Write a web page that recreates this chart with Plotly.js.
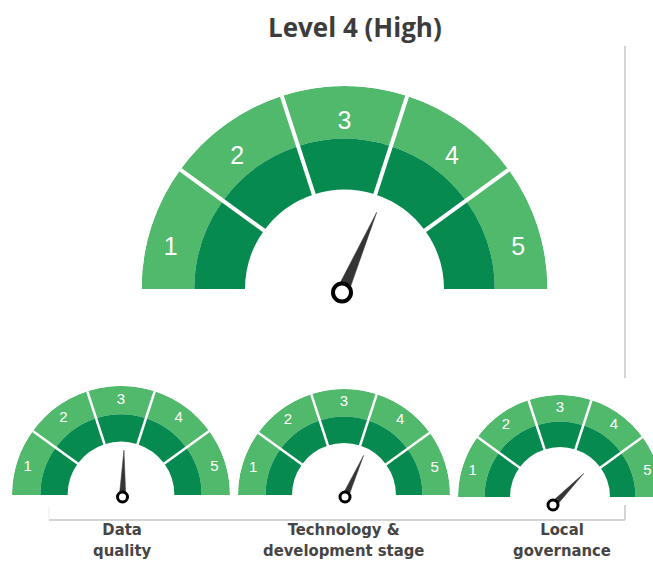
<!DOCTYPE html>
<html>
<head>
<meta charset="utf-8">
<script src="https://cdn.plot.ly/plotly-3.0.1.min.js"></script>
<style>
html,body{margin:0;padding:0;overflow:hidden;background:#fff;width:653px;height:562px;}
#chart{width:670px;height:620px;}
</style>
</head>
<body>
<div id="chart"></div>
<script>
// ---- data ----
const levels = [1, 2, 3, 4, 5];
const levelLabels = ['1', '2', '3', '4', '5'];
const gaugeTitles = ['Level 4 (High)', 'Data<br>quality', 'Technology &amp;<br>development stage', 'Local<br>governance'];
const needleValues = [3.15, 2.55, 3.17, 3.73];

// ---- styling / layout ----
// the figure is drawn a little larger than the 653x562 window; the extra is cropped
const W = 670, H = 620;
// pdx/pdy: small pixel offset of the needle pivot from the gauge centre (right / down)
const gauges = [
  {cx: 344.5, cy: 289, R: 203, font: 25, sep: 4, pivot: 18, pivotLine: 4, drop: 0.08, pdx: -2.5, pdy: 3.5},
  {cx: 121, cy: 495, R: 109, font: 15, sep: 2.5, pivot: 10, pivotLine: 3, drop: 0.027, pdx: 1.5, pdy: 2},
  {cx: 344, cy: 495, R: 106, font: 15, sep: 2.5, pivot: 10, pivotLine: 3, drop: 0.027, pdx: 1, pdy: 2},
  {cx: 560, cy: 497, R: 102, font: 15, sep: 2.5, pivot: 10, pivotLine: 3, drop: 0.027, pdx: -7, pdy: 8}
];
const LIGHT = '#50b96b', DARK = '#078a4f', NEEDLE = '#353535';
const degPerLevel = 180 / levels.length;
const rInner = 49, rMid = 74, rOuter = 100, needleLen = 43, needleHalfW = 3, labelR = 90;
const rad = Math.PI / 180;
// local frame helper: x towards theta=0 (left), y up -> polar (r, theta)
const toPolar = (x, y) => [Math.hypot(x, y), Math.atan2(y, x) / rad];

const traces = [];
const layout = {
  width: W, height: H,
  margin: {l: 0, r: 0, t: 0, b: 0},
  paper_bgcolor: '#fff',
  showlegend: false,
  annotations: [],
  shapes: []
};

gauges.forEach((g, i) => {
  const pid = i === 0 ? 'polar' : 'polar' + (i + 1);
  layout[pid] = {
    domain: {
      x: [(g.cx - g.R) / W, (g.cx + g.R) / W],
      y: [1 - (g.cy + g.R) / H, 1 - (g.cy - g.R) / H]
    },
    bgcolor: 'rgba(0,0,0,0)',
    radialaxis: {visible: false, range: [0, rOuter], showgrid: false},
    angularaxis: {visible: false, rotation: 180, direction: 'clockwise', showgrid: false, thetaunit: 'degrees'}
  };
  const mids = levels.map(v => (v - 0.5) * degPerLevel);
  // light outer band
  traces.push({
    type: 'barpolar', subplot: pid, hoverinfo: 'skip',
    theta: mids, r: levels.map(() => rOuter - rMid), base: levels.map(() => rMid),
    width: levels.map(() => degPerLevel),
    marker: {color: LIGHT, line: {width: 0}}
  });
  // dark inner band
  traces.push({
    type: 'barpolar', subplot: pid, hoverinfo: 'skip',
    theta: mids, r: levels.map(() => rMid - rInner), base: levels.map(() => rInner),
    width: levels.map(() => degPerLevel),
    marker: {color: DARK, line: {width: 0}}
  });
  // separators
  const sr = [], st = [];
  levels.slice(0, -1).forEach(v => {
    sr.push(rInner - 1, rOuter, null);
    st.push(v * degPerLevel, v * degPerLevel, null);
  });
  traces.push({
    type: 'scatterpolar', subplot: pid, mode: 'lines', hoverinfo: 'skip',
    r: sr, theta: st, line: {color: '#ffffff', width: g.sep}
  });
  // numbers: on a circle of labelR, nudged slightly downward
  const lr = [], lt = [];
  mids.forEach(m => {
    const p = toPolar(labelR * Math.cos(m * rad), labelR * Math.sin(m * rad) - g.drop * rOuter);
    lr.push(p[0]); lt.push(p[1]);
  });
  traces.push({
    type: 'scatterpolar', subplot: pid, mode: 'text', hoverinfo: 'skip',
    r: lr, theta: lt, text: levelLabels,
    textfont: {family: 'Liberation Sans, Arial, sans-serif', size: g.font, color: '#ffffff'},
    cliponaxis: false
  });
  // needle (triangle from the pivot towards the value)
  const k = rOuter / g.R;
  const px0 = -g.pdx * k, py0 = -g.pdy * k;
  const nd = needleValues[i] * degPerLevel * rad;
  const ux = Math.cos(nd), uy = Math.sin(nd);
  const pts = [
    [px0 + needleLen * ux, py0 + needleLen * uy],
    [px0 - needleHalfW * uy, py0 + needleHalfW * ux],
    [px0 + needleHalfW * uy, py0 - needleHalfW * ux],
    [px0 + needleLen * ux, py0 + needleLen * uy]
  ].map(p => toPolar(p[0], p[1]));
  traces.push({
    type: 'scatterpolar', subplot: pid, mode: 'lines', fill: 'toself', hoverinfo: 'skip',
    r: pts.map(p => p[0]), theta: pts.map(p => p[1]),
    fillcolor: NEEDLE, line: {color: NEEDLE, width: 0.5}
  });
  // pivot
  const pv = toPolar(px0, py0);
  traces.push({
    type: 'scatterpolar', subplot: pid, mode: 'markers', hoverinfo: 'skip',
    r: [pv[0]], theta: [pv[1]],
    marker: {size: g.pivot, color: '#ffffff', line: {color: '#000000', width: g.pivotLine}},
    cliponaxis: false
  });
});

// title of big gauge
layout.annotations.push({
  xref: 'paper', yref: 'paper', x: 355 / W, y: 1 - 27 / H, xanchor: 'center', yanchor: 'middle',
  text: '<b>' + gaugeTitles[0] + '</b>', showarrow: false,
  font: {family: '"Open Sans", sans-serif', size: 26, color: '#3c3c3c'}
});
// labels under small gauges
const labelX = [121.5, 343.5, 562];
gaugeTitles.slice(1).forEach((t, k) => {
  layout.annotations.push({
    xref: 'paper', yref: 'paper', x: labelX[k] / W, y: 1 - 518 / H, xanchor: 'center', yanchor: 'top',
    text: '<b>' + t + '</b>', showarrow: false,
    font: {family: '"DejaVu Sans Condensed", "Liberation Sans Narrow", sans-serif', size: 16.5, color: '#454545'}
  });
});

// frame lines
const px = x => x / W, py = y => 1 - y / H;
const LINE = '#c6c6c6';
layout.shapes.push(
  {type: 'line', xref: 'paper', yref: 'paper', x0: px(49), x1: px(625), y0: py(520), y1: py(520), line: {color: LINE, width: 1.5}},
  {type: 'line', xref: 'paper', yref: 'paper', x0: px(625), x1: px(625), y0: py(505), y1: py(520), line: {color: LINE, width: 1.5}},
  {type: 'line', xref: 'paper', yref: 'paper', x0: px(625), x1: px(625), y0: py(46), y1: py(378), line: {color: LINE, width: 1.5}},
  {type: 'line', xref: 'paper', yref: 'paper', x0: px(49), x1: px(49), y0: py(507), y1: py(520), line: {color: '#ececec', width: 1}}
);

Plotly.newPlot('chart', traces, layout, {displayModeBar: false, staticPlot: true});
</script>
</body>
</html>
